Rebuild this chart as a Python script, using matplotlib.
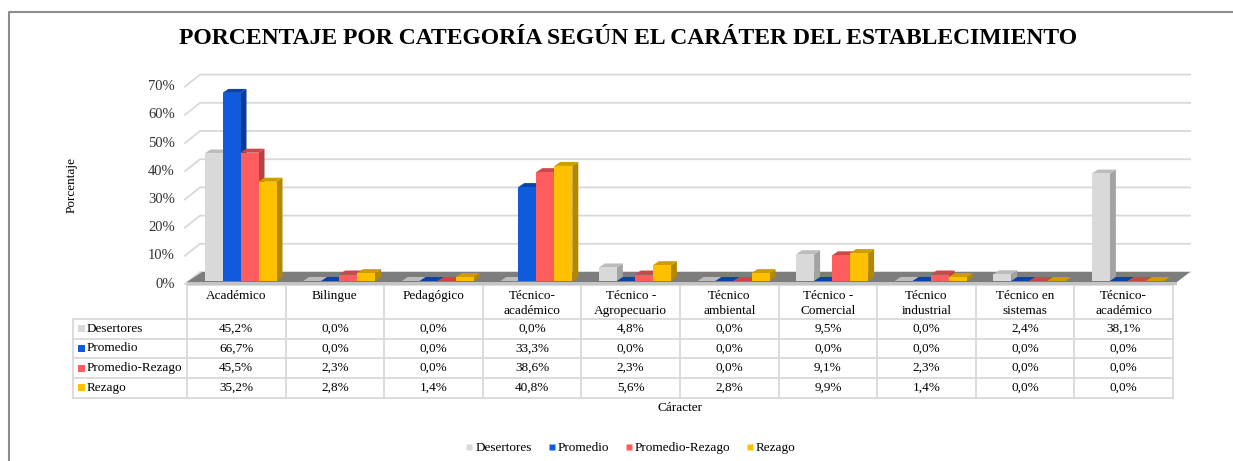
import numpy as np
import matplotlib
matplotlib.use("Agg")
import matplotlib.pyplot as plt
from matplotlib.patches import Polygon, Rectangle
from matplotlib.lines import Line2D

plt.rcParams['font.family'] = ['Liberation Serif', 'DejaVu Serif']

# --- data ---
categories = ["Académico", "Bilingue", "Pedagógico", "Técnico-\nacadémico",
              "Técnico -\nAgropecuario", "Técnico\nambiental", "Técnico -\nComercial",
              "Técnico\nindustrial", "Técnico en\nsistemas", "Técnico-\nacadémico"]
series_names = ["Desertores", "Promedio", "Promedio-Rezago", "Rezago"]
desertores = [45.2, 0.0, 0.0, 0.0, 4.8, 0.0, 9.5, 0.0, 2.4, 38.1]
promedio = [66.7, 0.0, 0.0, 33.3, 0.0, 0.0, 0.0, 0.0, 0.0, 0.0]
promedio_rezago = [45.5, 2.3, 0.0, 38.6, 2.3, 0.0, 9.1, 2.3, 0.0, 0.0]
rezago = [35.2, 2.8, 1.4, 40.8, 5.6, 2.8, 9.9, 1.4, 0.0, 0.0]
y_ticks = [0, 10, 20, 30, 40, 50, 60, 70]

series = [desertores, promedio, promedio_rezago, rezago]
# front, side, top colours
colors = [("#d9d9d9", "#a3a3a3", "#bcbcbc"),
          ("#0f5bdc", "#0a3c92", "#0b44a8"),
          ("#ff5d5d", "#b54242", "#cc4747"),
          ("#ffc000", "#b38700", "#cf9d00")]

W, H = 1233, 461
fig = plt.figure(figsize=(W / 100, H / 100), dpi=100)

# overlay in pixel units for table, borders
ov = fig.add_axes([0, 0, 1, 1])
ov.set_xlim(0, W)
ov.set_ylim(H, 0)
ov.axis("off")

# main chart axes
X0, X1 = 187, 1173
BASE, TOP = 281, 60
PXC = (X1 - X0) / len(categories)   # px per category
PXP = 2.82                           # px per percent
ax = fig.add_axes([X0 / W, (H - BASE) / H, (X1 - X0) / W, (BASE - TOP) / H])
ax.set_xlim(-0.5, len(categories) - 0.5)
ax.set_ylim(0, (BASE - TOP) / PXP)
ax.axis("off")
ax.patch.set_visible(False)


def dx(px):
    return px / PXC


def dy(px):
    return px / PXP


left = -0.5
# back-wall gridlines and tick labels
for v in y_ticks:
    xs = [left - dx(2), left + dx(13), left + dx(1003)]
    ys = [v - dy(3), v + dy(9), v + dy(9)]
    ax.plot(xs, ys, color="#d9d9d9", lw=1.3, clip_on=False, zorder=1)
    ax.text(left - dx(12), v - dy(3), f"{v}%", ha="right", va="center",
            fontsize=10.5, color="#333333")

# floor
floor = Polygon([(left, -dy(1)), (left + dx(15), dy(9)), (left + dx(1003), dy(9)),
                 (left + dx(990), -dy(1))], closed=True, facecolor="#7d7d7d",
                edgecolor="none", clip_on=False, zorder=2)
ax.add_patch(floor)
floor_front = Polygon([(left, -dy(1)), (left + dx(990), -dy(1)), (left + dx(990), -dy(4)),
                       (left, -dy(4))], closed=True, facecolor="#c4c4c4",
                      edgecolor="none", clip_on=False, zorder=2)
ax.add_patch(floor_front)

# 3D bars
bw = dx(18)
ddx, ddy = dx(6), dy(4)
z = 3
for i in range(len(categories)):
    for j, vals in enumerate(series):
        v = vals[i]
        x = i - 0.5 + dx(17.5 + 18 * j)
        front, side, top = colors[j]
        ax.add_patch(Polygon([(x + bw, 0), (x + bw + ddx, ddy), (x + bw + ddx, v + ddy),
                              (x + bw, v)], closed=True, facecolor=side, edgecolor="none",
                             clip_on=False, zorder=z))
        ax.add_patch(Polygon([(x, v), (x + ddx, v + ddy), (x + bw + ddx, v + ddy),
                              (x + bw, v)], closed=True, facecolor=top, edgecolor="none",
                             clip_on=False, zorder=z))
        if v > 0:
            ax.bar(x, v, width=bw, align="edge", color=front, edgecolor="none",
                   zorder=z + 0.5, clip_on=False)
        z += 1

# data table
grid_c = "#d9d9d9"
rows_y = [285, 318.5, 338.5, 358, 378, 397.5]
ov.plot([X0, X1], [rows_y[0], rows_y[0]], color=grid_c, lw=1.3)
for yy in rows_y[1:]:
    ov.plot([73, X1], [yy, yy], color=grid_c, lw=1.3)
ov.plot([73, 73], [rows_y[1], rows_y[-1]], color=grid_c, lw=1.3)
for k in range(len(categories) + 1):
    xx = X0 + PXC * k
    ov.plot([xx, xx], [rows_y[0], rows_y[-1]], color=grid_c, lw=1.3)

for k, cat in enumerate(categories):
    cx = X0 + PXC * (k + 0.5)
    ov.text(cx, 290, cat, ha="center", va="top", fontsize=9.5, linespacing=1.3)
    for r, vals in enumerate(series):
        cy = (rows_y[r + 1] + rows_y[r + 2]) / 2
        ov.text(cx, cy, f"{vals[k]:.1f}%".replace(".", ","), ha="center", va="center",
                fontsize=9.5)

for r, name in enumerate(series_names):
    cy = (rows_y[r + 1] + rows_y[r + 2]) / 2
    ov.add_patch(Rectangle((77.5, cy - 3.5), 7, 7, facecolor=colors[r][0], edgecolor="none"))
    ov.text(87, cy, name, ha="left", va="center", fontsize=9.5)

# axis labels and title
ov.text(72, 185, "Porcentaje", rotation=90, ha="center", va="center", fontsize=9.5)
ov.text(680, 408, "Cáracter", ha="center", va="center", fontsize=9.5)
ov.text(628, 38, "PORCENTAJE POR CATEGORÍA SEGÚN EL CARÁTER DEL ESTABLECIMIENTO",
        ha="center", va="center", fontsize=17, fontweight="bold")

# legend
handles = [Line2D([], [], marker="s", linestyle="none", markersize=5,
                  markerfacecolor=c[0], markeredgecolor="none") for c in colors]
fig.legend(handles, series_names, loc="center", bbox_to_anchor=(630 / W, (H - 448) / H),
           ncol=4, frameon=False, fontsize=9.5, handletextpad=0.05, columnspacing=1.1,
           handlelength=0.8)

# chart border (left and top)
ov.plot([8.5, 8.5, W], [H, 12, 12], color="#8c8c8c", lw=1.5)

fig.savefig("out.png", dpi=100)
